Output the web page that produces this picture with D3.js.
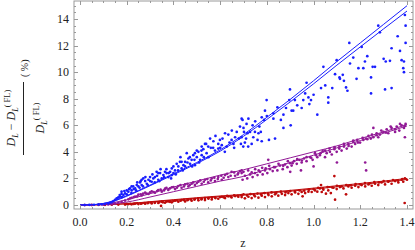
<!DOCTYPE html>
<html lang="en"><head>
<meta charset="UTF-8">
<title>DL deviation</title>
<script src="https://cdn.jsdelivr.net/npm/d3@7"></script>
<style>
body { margin: 0; background: #fff; }
text { font-family: "Liberation Serif", "DejaVu Serif", serif; fill: #222; }
</style>
</head>
<body>
<script>

var width = 415;
var height = 250;

// fitted curves, sampled at fitZ
var fitZ = [0, 0.05, 0.1, 0.15, 0.2, 0.3, 0.4, 0.5, 0.6, 0.7, 0.8, 0.9, 1.0, 1.1, 1.2, 1.3, 1.4];
var blueFitA = [0, 0.02, 0.12, 0.35, 0.7, 1.5, 2.35, 3.2, 4.15, 5.3, 6.6, 7.95, 9.35, 10.8, 12.2, 13.6, 15.0];
var blueFitB = [0, 0.02, 0.1, 0.32, 0.66, 1.45, 2.28, 3.12, 4.05, 5.17, 6.44, 7.76, 9.12, 10.53, 11.9, 13.26, 14.6];
var purpleFitA = [0, 0.02, 0.08, 0.2, 0.4, 0.85, 1.35, 1.8, 2.25, 2.65, 3.1, 3.55, 4.0, 4.45, 5.0, 5.5, 6.05];
var purpleFitB = [0, 0.01, 0.05, 0.12, 0.22, 0.6, 1.0, 1.4, 1.8, 2.15, 2.7, 3.2, 3.75, 4.3, 4.85, 5.4, 5.95];
var redFitA = [0, 0.01, 0.03, 0.06, 0.1, 0.25, 0.4, 0.55, 0.68, 0.8, 0.95, 1.1, 1.27, 1.45, 1.62, 1.8, 2.0];
var redFitB = [0, 0.01, 0.02, 0.05, 0.09, 0.22, 0.36, 0.5, 0.63, 0.75, 0.89, 1.04, 1.2, 1.37, 1.54, 1.72, 1.92];

// scatter points [z, %]
var bluePts = [
  [0.02,0.0],[0.04,0.01],[0.06,0.02],[0.079,0.03],[0.093,0.05],[0.107,0.07],[0.121,0.12],[0.128,0.17],
  [0.136,0.22],[0.143,0.3],[0.15,0.38],[0.157,0.5],[0.164,0.58],[0.171,0.63],[0.178,0.83],[0.178,1.0],
  [0.186,0.75],[0.193,0.88],[0.2,1.1],[0.207,1.0],[0.214,1.25],[0.221,1.1],[0.221,1.4],[0.228,1.4],
  [0.236,1.25],[0.243,1.5],[0.25,1.4],[0.257,1.7],[0.264,1.5],[0.264,1.9],[0.271,2.0],[0.279,1.8],
  [0.286,1.6],[0.293,1.9],[0.3,2.1],[0.307,1.75],[0.314,2.0],[0.321,2.1],[0.328,2.5],[0.335,1.9],
  [0.335,2.4],[0.343,2.4],[0.35,2.0],[0.357,2.25],[0.364,2.5],[0.371,2.4],[0.378,2.1],[0.386,2.5],
  [0.393,2.75],[0.393,2.25],[0.4,2.4],[0.407,2.6],[0.414,3.1],[0.421,2.9],[0.428,3.25],[0.435,2.75],
  [0.435,3.25],[0.443,3.0],[0.45,3.25],[0.457,3.9],[0.464,3.5],[0.471,3.1],[0.478,3.4],[0.485,3.75],
  [0.492,3.0],[0.492,3.9],[0.5,3.6],[0.507,4.0],[0.514,3.4],[0.521,3.75],[0.521,4.4],[0.528,4.2],
  [0.535,4.6],[0.542,3.9],[0.549,4.4],[0.557,5.0],[0.571,4.8],[0.578,4.1],[0.592,4.6],[0.592,4.25],
  [0.599,4.9],[0.607,4.5],[0.621,5.4],[0.628,4.4],[0.635,5.3],[0.649,4.9],[0.657,4.6],[0.664,5.1],
  [0.671,5.5],[0.685,5.9],[0.689,4.6],[0.692,6.5],[0.692,5.1],[0.696,6.4],[0.699,4.4],[0.702,5.5],
  [0.706,4.7],[0.711,5.0],[0.713,6.1],[0.717,5.4],[0.721,6.5],[0.728,5.5],[0.735,4.6],[0.739,6.0],
  [0.742,5.1],[0.749,5.5],[0.76,4.9],[0.764,5.4],[0.768,5.9],[0.774,5.5],[0.778,6.6],[0.778,4.8],
  [0.788,6.4],[0.792,7.1],[0.799,7.9],[0.809,4.9],[0.828,6.9],[0.828,6.5],[0.835,5.0],[0.845,7.35],
  [0.871,6.8],[0.871,5.8],[0.882,7.3],[0.896,7.9],[0.899,8.7],[0.902,6.0],[0.906,7.1],[0.913,7.1],
  [0.92,7.9],[0.949,7.3],[0.956,7.9],[0.964,8.4],[0.978,8.1],[0.982,7.6],[0.989,7.9],[1.016,6.8],
  [1.032,8.8],[1.042,10.4],[1.063,8.1],[1.063,7.7],[1.092,9.85],[1.099,10.9],[1.111,9.6],[1.113,9.5],
  [1.125,9.8],[1.13,9.35],[1.139,8.85],[1.145,8.6],[1.153,12.2],[1.156,10.65],[1.184,9.5],[1.192,10.3],
  [1.206,11.9],[1.213,10.3],[1.22,10.8],[1.246,9.6],[1.246,8.4],[1.253,10.4],[1.263,10.4],[1.277,13.5],
  [1.284,13.0],[1.306,8.7],[1.309,10.8],[1.327,10.85],[1.334,8.8],[1.334,11.8],[1.377,10.9],[1.384,10.3],
  [1.387,10.8],[1.387,10.0],[1.391,14.3],[1.394,13.5],[1.394,12.2],
  [0.16,0.45],[0.17,0.75],[0.18,0.6],[0.19,1.05],[0.2,0.8],[0.21,1.2],[0.22,0.9],[0.23,1.2],
  [0.24,1.1],[0.245,1.7],[0.255,1.3],[0.26,1.8],[0.27,1.4],[0.28,2.1],[0.29,1.5],[0.3,1.8],
  [0.31,2.3],[0.32,1.7],[0.33,2.2],[0.34,1.8],[0.345,2.7],[0.36,2.1],[0.37,2.7],[0.38,2.4],
  [0.39,2.0],[0.4,2.9],[0.41,2.3],[0.42,2.6],[0.43,3.6],[0.44,2.6],[0.45,2.9],[0.46,3.2],
  [0.47,3.6],[0.48,2.9],[0.49,3.4],[0.5,4.1],[0.51,3.2],[0.52,4.1],[0.53,3.6],[0.54,4.6],
  [0.55,3.6],[0.56,4.3],[0.57,4.3],[0.58,5.2],[0.6,4.3],[0.61,5.0],[0.62,4.0],[0.64,4.7],
  [0.65,5.6],[0.66,4.3],[0.68,5.0],[0.7,5.8],[0.72,4.4],[0.75,6.3],[0.8,6.7],[0.86,6.4],
  [0.93,7.5],[0.97,9.2],[1.0,8.3],[1.05,9.0],[1.08,8.8],[1.17,11.1],[1.23,11.2],[1.3,11.0],
  [1.36,12.7],[1.37,11.6]
];
var purplePts = [
  [0.02,0.0],[0.05,0.01],[0.08,0.02],[0.1,0.03],[0.121,0.04],[0.136,0.06],[0.15,0.1],[0.164,0.15],
  [0.178,0.23],[0.193,0.33],[0.207,0.43],[0.221,0.53],[0.236,0.63],[0.25,0.78],[0.264,0.72],[0.279,0.93],
  [0.293,0.83],[0.307,1.03],[0.321,0.93],[0.335,1.13],[0.35,1.0],[0.364,1.23],[0.378,1.13],[0.393,1.33],
  [0.407,1.2],[0.421,1.43],[0.435,1.3],[0.45,1.55],[0.464,1.4],[0.478,1.6],[0.492,1.5],[0.507,1.75],
  [0.521,1.6],[0.535,1.9],[0.549,1.7],[0.564,2.0],[0.578,1.8],[0.592,2.1],[0.607,1.9],[0.621,2.25],
  [0.635,2.1],[0.649,2.5],[0.664,2.2],[0.678,2.4],[0.692,2.6],[0.692,2.4],[0.696,1.9],[0.706,2.2],
  [0.716,2.0],[0.728,2.3],[0.739,2.1],[0.749,2.4],[0.76,2.25],[0.771,2.5],[0.782,2.3],[0.792,2.6],
  [0.802,2.4],[0.806,3.4],[0.813,2.7],[0.825,2.55],[0.835,2.85],[0.845,2.6],[0.856,2.97],[0.868,2.7],
  [0.878,3.05],[0.888,2.85],[0.899,3.15],[0.906,2.97],[0.916,3.3],[0.928,3.1],[0.939,3.4],[0.946,2.6],
  [0.949,3.2],[0.959,3.5],[0.97,3.3],[0.985,3.6],[0.996,3.4],[1.006,3.9],[1.016,3.6],[1.027,3.75],
  [1.039,4.05],[1.049,3.6],[1.056,3.9],[1.068,4.25],[1.078,3.8],[1.089,4.2],[1.099,4.0],[1.111,4.4],
  [1.12,4.1],[1.13,4.4],[1.142,4.25],[1.149,4.6],[1.163,4.4],[1.17,4.75],[1.178,4.6],[1.187,4.9],
  [1.199,4.7],[1.213,4.9],[1.221,3.2],[1.225,2.6],[1.225,5.0],[1.235,5.2],[1.245,5.0],[1.256,5.8],
  [1.256,5.1],[1.27,5.4],[1.277,5.1],[1.284,5.3],[1.299,5.5],[1.313,5.7],[1.32,5.4],[1.334,5.8],
  [1.349,5.5],[1.356,5.9],[1.367,5.6],[1.377,6.0],[1.387,5.8],[1.391,5.1],[1.394,6.1],
  [0.215,0.5],[0.23,0.6],[0.245,0.65],[0.26,0.8],[0.27,0.85],[0.285,0.85],[0.3,0.95],[0.315,0.98],
  [0.33,1.05],[0.345,1.15],[0.36,1.1],[0.37,1.3],[0.385,1.25],[0.4,1.35],[0.415,1.3],[0.43,1.5],
  [0.445,1.4],[0.46,1.6],[0.47,1.5],[0.485,1.7],[0.5,1.65],[0.515,1.85],[0.53,1.75],[0.545,1.95],
  [0.56,1.85],[0.575,2.05],[0.59,1.95],[0.605,2.2],[0.615,2.05],[0.63,2.35],[0.645,2.2],[0.66,2.45],
  [0.675,2.3],[0.685,2.55],[0.7,2.5],[0.72,2.6],[0.735,2.45],[0.75,2.7],[0.765,2.6],[0.78,2.8],
  [0.795,2.75],[0.81,2.95],[0.83,2.85],[0.85,3.1],[0.87,2.95],[0.89,3.3],[0.91,3.15],[0.93,3.45],
  [0.95,3.35],[0.97,3.6],[0.99,3.55],[1.01,3.75],[1.03,3.9],[1.05,4.1],[1.07,4.0],[1.09,4.35],
  [1.11,4.25],[1.13,4.6],[1.15,4.45],[1.17,4.85],[1.19,4.7],[1.21,5.05],[1.23,4.95],[1.25,5.3],
  [1.27,5.25],[1.29,5.6],[1.31,5.45],[1.33,5.9],[1.35,5.7],[1.37,6.1],[1.39,5.95],[1.0,2.9],
  [1.1,3.2],[0.9,2.5]
];
var redPts = [
  [0.02,0.0],[0.05,0.0],[0.08,0.01],[0.107,0.01],[0.136,0.02],[0.164,0.03],[0.193,0.03],[0.207,0.07],
  [0.221,0.05],[0.236,0.1],[0.25,0.07],[0.264,0.12],[0.279,0.1],[0.293,0.17],[0.307,0.12],[0.321,0.2],
  [0.335,0.15],[0.347,-0.07],[0.35,0.25],[0.364,0.17],[0.378,0.27],[0.393,0.2],[0.407,0.32],[0.421,0.25],
  [0.435,0.37],[0.45,0.27],[0.464,0.42],[0.478,0.32],[0.492,0.45],[0.507,0.35],[0.521,0.47],[0.535,0.37],
  [0.549,0.52],[0.564,0.42],[0.578,0.57],[0.592,0.47],[0.607,0.62],[0.621,0.52],[0.635,0.65],[0.649,0.57],
  [0.664,0.67],[0.678,0.62],[0.692,0.74],[0.692,0.6],[0.706,0.5],[0.721,0.62],[0.735,0.52],[0.749,0.65],
  [0.764,0.55],[0.778,0.7],[0.792,0.6],[0.807,0.75],[0.821,0.65],[0.835,0.8],[0.849,0.7],[0.864,0.84],
  [0.878,0.75],[0.892,0.9],[0.906,0.8],[0.921,0.94],[0.935,0.84],[0.949,0.98],[0.953,0.65],[0.964,0.9],
  [0.978,1.0],[0.992,0.98],[1.006,1.1],[1.016,1.0],[1.027,1.25],[1.032,1.5],[1.035,0.98],[1.042,1.15],
  [1.053,0.85],[1.063,1.1],[1.074,0.9],[1.085,1.3],[1.089,2.18],[1.092,0.4],[1.099,1.2],[1.113,1.35],
  [1.128,1.25],[1.139,0.8],[1.149,1.4],[1.163,1.3],[1.178,1.45],[1.192,1.35],[1.206,1.5],[1.221,1.4],
  [1.235,1.55],[1.249,1.45],[1.263,1.6],[1.277,1.5],[1.291,1.7],[1.306,1.55],[1.32,1.75],[1.334,1.6],
  [1.349,1.8],[1.363,1.7],[1.377,1.9],[1.384,1.75],[1.391,2.0],[1.39,0.15],
  [0.2,0.08],[0.215,0.09],[0.23,0.08],[0.245,0.13],[0.26,0.1],[0.275,0.15],[0.29,0.13],[0.305,0.18],
  [0.32,0.16],[0.34,0.22],[0.355,0.2],[0.37,0.26],[0.385,0.24],[0.4,0.3],[0.415,0.35],[0.43,0.32],
  [0.445,0.38],[0.46,0.36],[0.475,0.42],[0.49,0.4],[0.505,0.48],[0.52,0.42],[0.535,0.52],[0.55,0.48],
  [0.565,0.56],[0.58,0.52],[0.6,0.6],[0.615,0.58],[0.63,0.68],[0.645,0.64],[0.66,0.72],[0.675,0.68],
  [0.7,0.8],[0.715,0.72],[0.73,0.82],[0.745,0.76],[0.76,0.86],[0.775,0.8],[0.79,0.9],[0.805,0.85],
  [0.82,0.95],[0.84,0.9],[0.86,1.0],[0.88,0.95],[0.9,1.05],[0.92,1.02],[0.94,1.1],[0.96,1.08],
  [0.98,1.15],[1.0,1.2],[1.02,1.3],[1.04,1.25],[1.06,1.35],[1.08,1.32],[1.1,1.45],[1.12,1.4],
  [1.14,1.5],[1.16,1.48],[1.18,1.58],[1.2,1.55],[1.22,1.65],[1.24,1.62],[1.26,1.72],[1.28,1.7],
  [1.3,1.8],[1.32,1.78],[1.34,1.88],[1.36,1.85],[1.38,1.95],[1.4,1.9]
];

var xMajor = [0, 0.2, 0.4, 0.6, 0.8, 1.0, 1.2, 1.4];
var yMajor = [0, 2, 4, 6, 8, 10, 12, 14];

var colBlue = "rgb(25,30,255)";
var colPurple = "rgb(145,25,150)";
var colRed = "rgb(190,10,10)";

var frame = {left: 74, right: 413, top: 1, bottom: 209};

var x = d3.scaleLinear().domain([0, 1.4]).range([80, 407]);
var y = d3.scaleLinear().domain([0, 14]).range([205, 19]);

var svg = d3.select("body").append("svg")
            .attr("width", width)
            .attr("height", height);

var plot = svg.append("g");

// clip to frame
svg.append("clipPath").attr("id", "clip")
   .append("rect")
   .attr("x", frame.left).attr("y", frame.top)
   .attr("width", frame.right - frame.left)
   .attr("height", frame.bottom - frame.top);

var inner = plot.append("g").attr("clip-path", "url(#clip)");

var line = d3.line()
             .x(function(d) { return x(d[0]); })
             .y(function(d) { return y(d[1]); })
             .curve(d3.curveMonotoneX);

function drawSeries(pts, fitA, fitB, col) {
  inner.append("g")
       .selectAll("circle")
       .data(pts).enter()
       .append("circle")
       .attr("cx", function(d) { return x(d[0]); })
       .attr("cy", function(d) { return y(d[1]); })
       .attr("r", 1.35)
       .attr("fill", col);

  [fitA, fitB].forEach(function(f) {
    inner.append("path")
         .datum(fitZ.map(function(z, i) { return [z, f[i]]; }))
         .attr("d", line)
         .attr("fill", "none")
         .attr("stroke", col)
         .attr("stroke-width", 1);
  });
}

drawSeries(redPts, redFitA, redFitB, colRed);
drawSeries(purplePts, purpleFitA, purpleFitB, colPurple);
drawSeries(bluePts, blueFitA, blueFitB, colBlue);

// frame
var frameCol = "#999";
plot.append("rect")
    .attr("x", frame.left).attr("y", frame.top)
    .attr("width", frame.right - frame.left)
    .attr("height", frame.bottom - frame.top)
    .attr("fill", "none")
    .attr("stroke", frameCol)
    .attr("stroke-width", 1);

// ticks (inward, on all four sides)
var xMinor = d3.range(0, 1.4001, 0.05).filter(function(v) { return x(v) < frame.right; });
var yMinor = d3.range(0, 15.01, 0.5).filter(function(v) { return y(v) > frame.top; });

function xTicks(vals, len) {
  vals.forEach(function(v) {
    var px = Math.round(x(v)) + 0.5;
    plot.append("line").attr("x1", px).attr("x2", px)
        .attr("y1", frame.bottom).attr("y2", frame.bottom - len)
        .attr("stroke", frameCol);
    plot.append("line").attr("x1", px).attr("x2", px)
        .attr("y1", frame.top).attr("y2", frame.top + len)
        .attr("stroke", frameCol);
  });
}
function yTicks(vals, len) {
  vals.forEach(function(v) {
    var py = Math.round(y(v)) + 0.5;
    plot.append("line").attr("y1", py).attr("y2", py)
        .attr("x1", frame.left).attr("x2", frame.left + len)
        .attr("stroke", frameCol);
    plot.append("line").attr("y1", py).attr("y2", py)
        .attr("x1", frame.right).attr("x2", frame.right - len)
        .attr("stroke", frameCol);
  });
}
xTicks(xMinor, 2);
xTicks(xMajor, 4);
yTicks(yMinor, 2);
yTicks(yMajor, 4);

// tick labels
svg.append("g").selectAll("text")
   .data(xMajor).enter()
   .append("text")
   .attr("x", function(d) { return x(d); })
   .attr("y", 226)
   .attr("text-anchor", "middle")
   .attr("font-size", 12)
   .text(function(d) { return d.toFixed(1); });

svg.append("g").selectAll("text")
   .data(yMajor).enter()
   .append("text")
   .attr("x", 69)
   .attr("y", function(d) { return y(d) + 4; })
   .attr("text-anchor", "end")
   .attr("font-size", 12)
   .text(function(d) { return d; });

// axis labels
svg.append("text")
   .attr("x", 243).attr("y", 247)
   .attr("text-anchor", "middle")
   .attr("font-size", 12)
   .text("z");

var yl = svg.append("g").attr("transform", "translate(0,118) rotate(-90)");

var num = yl.append("text").attr("x", 0).attr("y", 15)
            .attr("text-anchor", "middle").attr("font-size", 12);
num.append("tspan").attr("font-style", "italic").text("D");
num.append("tspan").attr("font-style", "italic").attr("font-size", 8).attr("dy", 3).text("L");
num.append("tspan").attr("dy", -3).text(" \u2212 ");
num.append("tspan").attr("font-style", "italic").text("D");
num.append("tspan").attr("font-style", "italic").attr("font-size", 8).attr("dy", 3).text("L");
num.append("tspan").attr("font-size", 8.5).attr("dy", -8).text("( FL)");

yl.append("line")
  .attr("x1", -37).attr("x2", 36)
  .attr("y1", 23.5).attr("y2", 23.5)
  .attr("stroke", "#222").attr("stroke-width", 1);

var den = yl.append("text").attr("x", 0).attr("y", 44)
            .attr("text-anchor", "middle").attr("font-size", 12);
den.append("tspan").attr("font-style", "italic").text("D");
den.append("tspan").attr("font-style", "italic").attr("font-size", 8).attr("dy", 3).text("L");
den.append("tspan").attr("font-size", 8.5).attr("dy", -8).text("( FL)");

yl.append("text").attr("x", 41).attr("y", 28)
  .attr("font-size", 10)
  .text("( %)");

</script>
</body></html>
